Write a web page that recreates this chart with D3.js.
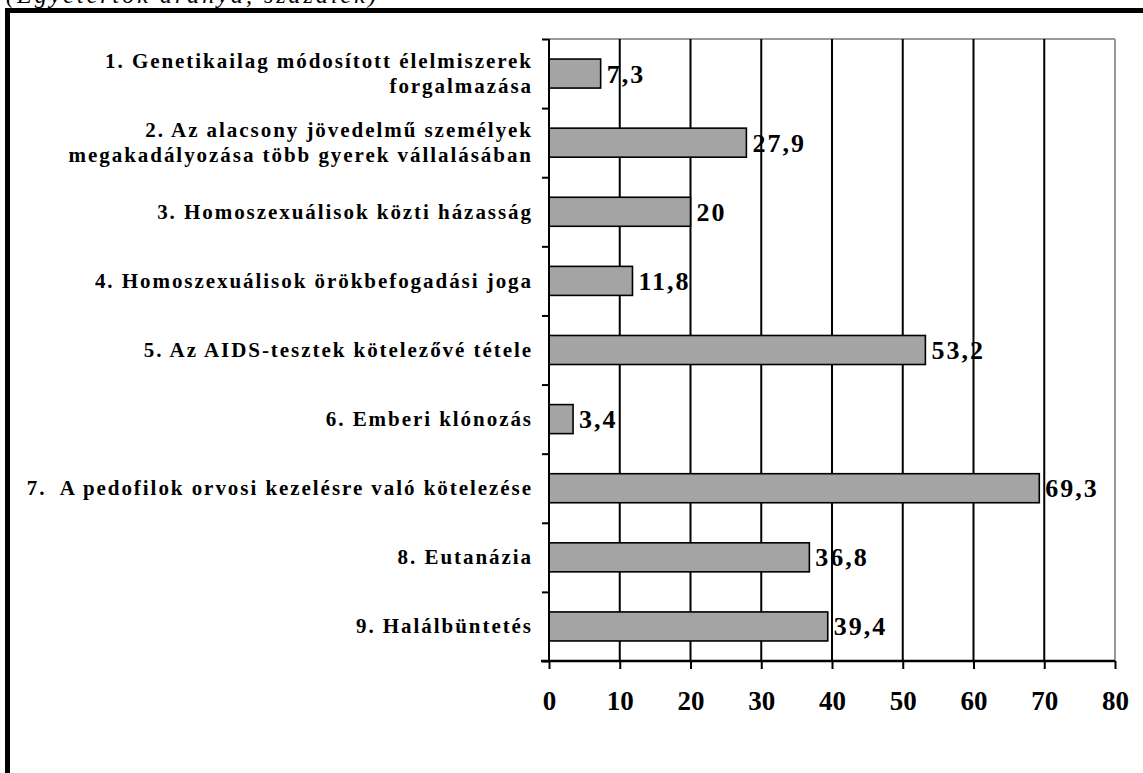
<!DOCTYPE html>
<html><head><meta charset="utf-8">
<script src="https://cdn.jsdelivr.net/npm/d3@7"></script>
<style>
body{margin:0;background:#fff;}
svg{display:block;}
</style></head>
<body>
<svg id="chart" width="1143" height="773"></svg>
<script>
const categories = [
  ["1. Genetikailag módosított élelmiszerek", "forgalmazása"],
  ["2. Az alacsony jövedelmű személyek", "megakadályozása több gyerek vállalásában"],
  ["3. Homoszexuálisok közti házasság"],
  ["4. Homoszexuálisok örökbefogadási joga"],
  ["5. Az AIDS-tesztek kötelezővé tétele"],
  ["6. Emberi klónozás"],
  ["7.  A pedofilok orvosi kezelésre való kötelezése"],
  ["8. Eutanázia"],
  ["9. Halálbüntetés"]
];
const values = [7.3, 27.9, 20, 11.8, 53.2, 3.4, 69.3, 36.8, 39.4];
const xTicks = [0, 10, 20, 30, 40, 50, 60, 70, 80];
const title = "(Egyetértők aránya, százalék)";

(function () {
const svg = d3.select("#chart");
const serif = "'Liberation Serif','Times New Roman',serif";

// outer frame
svg.append("rect").attr("x", 7.5).attr("y", 10.5).attr("width", 1160).attr("height", 800)
  .attr("fill", "none").attr("stroke", "#000").attr("stroke-width", 5);

// title (cut off by the top edge, as in the source)
svg.append("text").attr("x", 6).attr("y", 3).text(title)
  .attr("font-family", serif).attr("font-style", "italic").attr("font-size", 24)
  .attr("letter-spacing", 3).attr("fill", "#000");

const pL = 549, pR = 1115, pT = 39, pB = 661;
const x = d3.scaleLinear().domain([0, 80]).range([pL, pR]);
const idx = categories.map((d, i) => i);
const y = d3.scaleBand().domain(idx).range([pT, pB]).paddingInner(0.58).paddingOuter(0.29);
const yEdges = d3.scaleLinear().domain([0, categories.length]).range([pT, pB]);

// plot frame (gray top and right)
svg.append("line").attr("x1", pL).attr("x2", pR).attr("y1", pT).attr("y2", pT)
  .attr("stroke", "#999").attr("stroke-width", 2);
svg.append("line").attr("x1", pR).attr("x2", pR).attr("y1", pT).attr("y2", pB)
  .attr("stroke", "#999").attr("stroke-width", 2);

// gridlines
svg.append("g").selectAll("line").data(xTicks.filter(t => t > 0 && t < 80)).join("line")
  .attr("x1", d => x(d)).attr("x2", d => x(d)).attr("y1", pT).attr("y2", pB)
  .attr("stroke", "#000").attr("stroke-width", 2);

// bars
svg.append("g").selectAll("rect").data(values).join("rect")
  .attr("x", x(0)).attr("y", (d, i) => y(i))
  .attr("width", d => x(d) - x(0)).attr("height", y.bandwidth())
  .attr("fill", "#a4a4a4").attr("stroke", "#000").attr("stroke-width", 1.6);

// value labels
svg.append("g").selectAll("text").data(values).join("text")
  .attr("x", d => x(d) + 6).attr("y", (d, i) => y(i) + y.bandwidth() / 2 + 9)
  .text(d => String(d).replace(".", ","))
  .attr("font-family", serif).attr("font-weight", "bold").attr("font-size", 26)
  .attr("letter-spacing", 2).attr("fill", "#000");

// y axis
const yAxis = d3.axisLeft(yEdges).tickValues(d3.range(0, categories.length + 1)).tickSize(7).tickFormat("");
const gy = svg.append("g").attr("transform", `translate(${pL},0)`).call(yAxis);
gy.select(".domain").attr("stroke-width", 2).attr("d", `M0,${pT}V${pB}`);
gy.selectAll(".tick line").attr("stroke-width", 2);

// x axis
const xAxis = d3.axisBottom(x).tickValues(xTicks).tickSize(8).tickFormat(d3.format("d"));
const gx = svg.append("g").attr("transform", `translate(0,${pB})`).call(xAxis);
gx.select(".domain").attr("stroke-width", 2.5).attr("d", `M${pL - 8},0H${pR}`);
gx.selectAll(".tick line").attr("stroke-width", 2);
gx.selectAll(".tick text").attr("font-family", serif).attr("font-weight", "bold")
  .attr("font-size", 27).attr("fill", "#000").attr("y", 0).attr("dy", 0)
  .attr("transform", "translate(0,49)");

// category labels
const lab = svg.append("g");
categories.forEach((lines, i) => {
  const cy = y(i) + y.bandwidth() / 2;
  const n = lines.length;
  const t = lab.append("text").attr("text-anchor", "end")
    .style("white-space", "pre")
    .attr("font-family", serif).attr("font-weight", "bold").attr("font-size", 21)
    .attr("letter-spacing", 1.95).attr("fill", "#000");
  lines.forEach((ln, j) => {
    t.append("tspan").attr("x", 533).attr("y", cy + 7 + (j - (n - 1) / 2) * 25).text(ln);
  });
});
})();
</script>
</body></html>
